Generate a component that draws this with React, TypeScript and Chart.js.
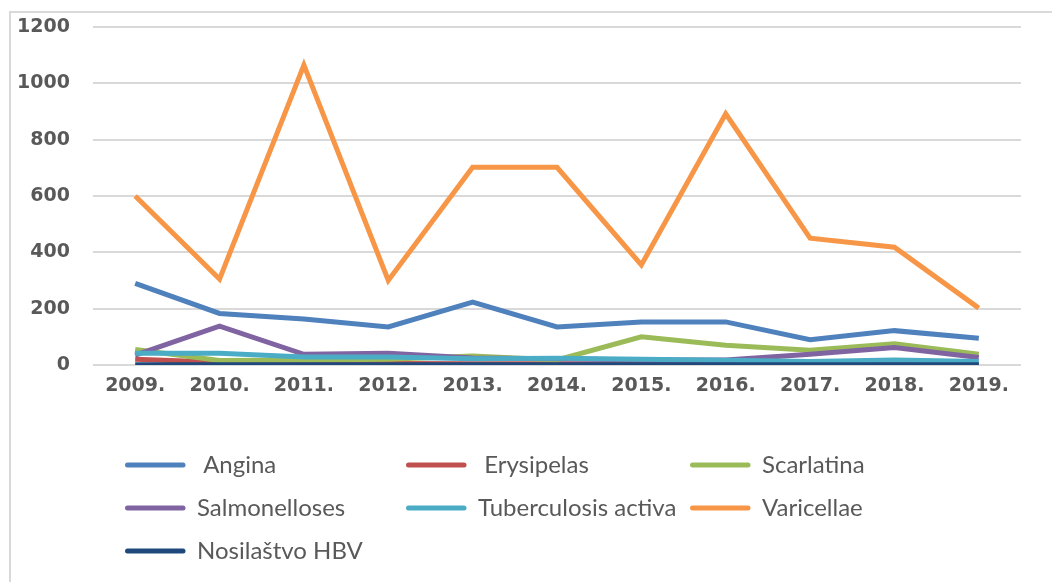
import React, { useEffect, useRef } from "react";
import { Chart, registerables } from "chart.js";

Chart.register(...registerables);

const years = ["2009.", "2010.", "2011.", "2012.", "2013.", "2014.", "2015.", "2016.", "2017.", "2018.", "2019."];
const yTicks = [0, 200, 400, 600, 800, 1000, 1200];

const angina = [290, 183, 163, 135, 223, 135, 153, 153, 90, 122, 95];
const erysipelas = [20, 10, 6, 5, 4, 4, 3, 3, 3, 3, 3];
const scarlatina = [55, 16, 18, 20, 32, 18, 100, 70, 52, 75, 38];
const salmonelloses = [35, 138, 38, 42, 25, 22, 18, 18, 38, 62, 27];
const tuberculosis = [42, 42, 28, 28, 22, 24, 20, 17, 12, 18, 12];
const varicellae = [600, 305, 1065, 300, 702, 702, 355, 892, 450, 418, 202];
const hbv = [1, 1, 1, 1, 1, 1, 1, 1, 1, 1, 1];

const seriesNames = [" Angina", " Erysipelas", "Scarlatina", "Salmonelloses", "Tuberculosis activa", "Varicellae", "Nosilaštvo HBV"];
const seriesValues = [angina, erysipelas, scarlatina, salmonelloses, tuberculosis, varicellae, hbv];
const seriesColors = ["#4F81BD", "#C0504D", "#9BBB59", "#8064A2", "#4BACC6", "#F79646", "#1F497D"];

const TEXT = "#595959";

const gridLegend = {
  id: "gridLegend",
  afterDraw(chart: any) {
    const ctx = chart.ctx;
    const cols = [125, 406, 690];
    const rows = [465, 508, 551];
    ctx.save();
    ctx.font = "24px Lato";
    ctx.textBaseline = "middle";
    ctx.textAlign = "left";
    chart.data.datasets.forEach((ds: any, i: number) => {
      const x = cols[i % 3];
      const y = rows[Math.floor(i / 3)];
      ctx.strokeStyle = ds.borderColor;
      ctx.lineWidth = 5;
      ctx.lineCap = "round";
      ctx.beginPath();
      ctx.moveTo(x + 2.5, y);
      ctx.lineTo(x + 58, y);
      ctx.stroke();
      ctx.fillStyle = TEXT;
      ctx.fillText(ds.label, x + 72, y);
    });
    ctx.restore();
  },
};

export default function App() {
  const ref = useRef<HTMLCanvasElement>(null);
  useEffect(() => {
    document.body.style.margin = "0";
    const chart = new Chart(ref.current!, {
      type: "line",
      data: {
        labels: years,
        datasets: seriesNames.map((name, i) => ({
          label: name,
          data: seriesValues[i],
          borderColor: seriesColors[i],
          backgroundColor: seriesColors[i],
          borderWidth: 5,
          pointRadius: 0,
          tension: 0,
          fill: false,
          order: seriesNames.length - i,
        })),
      },
      options: {
        responsive: false,
        animation: false,
        layout: { padding: { top: 27, right: 31, left: 0, bottom: 0 } },
        plugins: { legend: { display: false }, tooltip: { enabled: false } },
        scales: {
          x: {
            offset: true,
            grid: { display: false, drawTicks: false },
            border: { display: false },
            ticks: {
              color: TEXT,
              font: { family: "DejaVu Sans", size: 19, weight: "bold" },
              padding: 10,
              maxRotation: 0,
              autoSkip: false,
            },
            afterFit(s: any) {
              s.height = 217;
            },
          },
          y: {
            min: 0,
            max: 1200,
            afterBuildTicks(s: any) {
              s.ticks = yTicks.map((v) => ({ value: v }));
            },
            grid: { color: "#d9d9d9", lineWidth: 2, drawTicks: false },
            border: { display: false },
            ticks: {
              color: TEXT,
              font: { family: "DejaVu Sans", size: 19, weight: "bold" },
              padding: 23,
              callback: (v: any) => String(v),
            },
            afterFit(s: any) {
              s.width = 93;
              s.paddingTop = 0;
              s.paddingBottom = 0;
            },
          },
        },
      },
      plugins: [gridLegend],
    });
    return () => chart.destroy();
  }, []);
  return (
    <div style={{ position: "fixed", left: 0, top: 0, width: 1052, height: 582, background: "#fff" }}>
      <canvas ref={ref} width={1052} height={582} style={{ position: "absolute", left: 0, top: 0 }} />
      <div
        style={{
          position: "absolute",
          left: 9,
          top: 11,
          right: 0,
          bottom: 0,
          borderTop: "2px solid #d9d9d9",
          borderLeft: "2px solid #d9d9d9",
          pointerEvents: "none",
        }}
      />
    </div>
  );
}
